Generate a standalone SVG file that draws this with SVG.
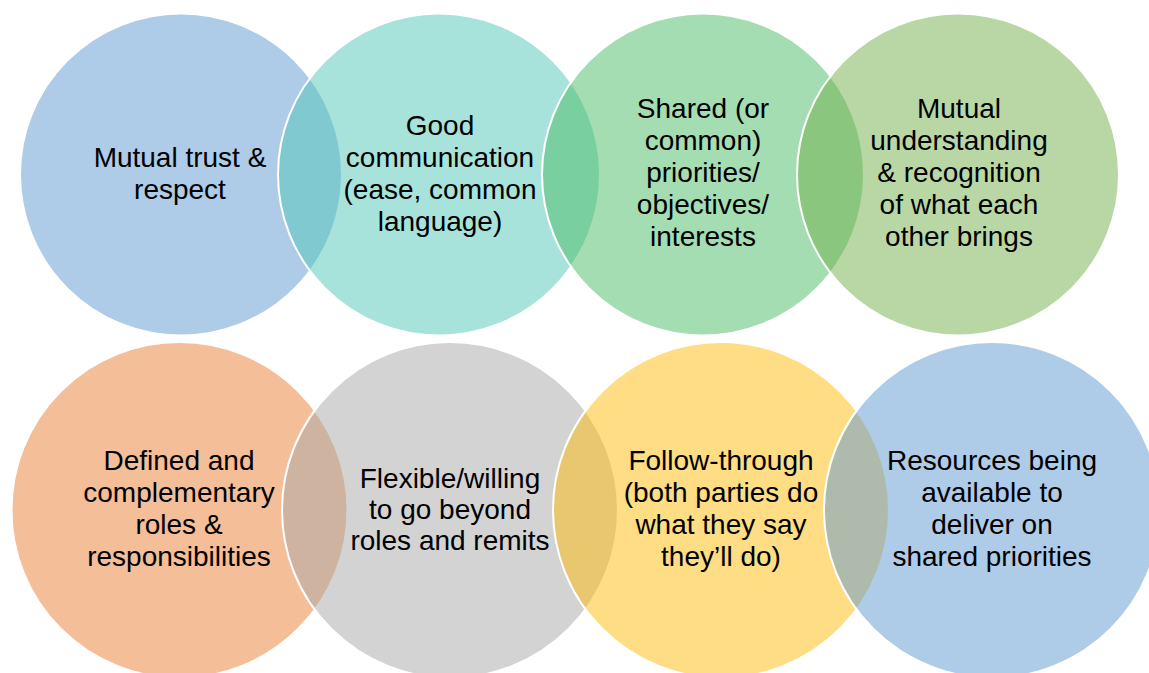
<svg xmlns="http://www.w3.org/2000/svg" width="1149" height="673" viewBox="0 0 1149 673">
<style>
.c{fill-opacity:0.5;stroke:#fff;stroke-width:2}
.t{font-family:"Liberation Sans",Arial,sans-serif;font-size:28px;fill:#000;text-anchor:middle}
</style>
<rect width="1149" height="673" fill="#fff"/>
<g id="n1"><circle class="c" cx="181" cy="174.5" r="161" fill="#5D97D1"/></g>
<g id="n2"><circle class="c" cx="439" cy="174.5" r="161" fill="#51C7B7"/></g>
<g id="n3"><circle class="c" cx="703" cy="174.5" r="161" fill="#49BB65"/></g>
<g id="n4"><circle class="c" cx="958" cy="174.5" r="161" fill="#71AF4B"/></g>
<g id="n5"><circle class="c" cx="179.5" cy="510" r="168" fill="#E97D31"/></g>
<g id="n6"><circle class="c" cx="450" cy="510" r="168" fill="#A7A7A7"/></g>
<g id="n7"><circle class="c" cx="721" cy="510" r="168" fill="#FDBB09"/></g>
<g id="n8"><circle class="c" cx="992" cy="510" r="168" fill="#5D97D1"/></g>
<g id="labels">
<text class="t" x="180" y="167">Mutual trust &amp;</text>
<text class="t" x="180" y="199">respect</text>
<text class="t" x="440" y="135">Good</text>
<text class="t" x="440" y="167">communication</text>
<text class="t" x="440" y="199">(ease, common</text>
<text class="t" x="440" y="231">language)</text>
<text class="t" x="703" y="118">Shared (or</text>
<text class="t" x="703" y="150">common)</text>
<text class="t" x="703" y="182">priorities/</text>
<text class="t" x="703" y="214">objectives/</text>
<text class="t" x="703" y="246">interests</text>
<text class="t" x="959" y="118">Mutual</text>
<text class="t" x="959" y="150">understanding</text>
<text class="t" x="959" y="182">&amp; recognition</text>
<text class="t" x="959" y="214">of what each</text>
<text class="t" x="959" y="246">other brings</text>
<text class="t" x="179" y="470">Defined and</text>
<text class="t" x="179" y="502">complementary</text>
<text class="t" x="179" y="534">roles &amp;</text>
<text class="t" x="179" y="566">responsibilities</text>
<text class="t" x="450" y="488">Flexible/willing</text>
<text class="t" x="450" y="519">to go beyond</text>
<text class="t" x="450" y="550">roles and remits</text>
<text class="t" x="721" y="470">Follow-through</text>
<text class="t" x="721" y="502">(both parties do</text>
<text class="t" x="721" y="534">what they say</text>
<text class="t" x="721" y="566">they’ll do)</text>
<text class="t" x="992" y="470">Resources being</text>
<text class="t" x="992" y="502">available to</text>
<text class="t" x="992" y="534">deliver on</text>
<text class="t" x="992" y="566">shared priorities</text>
</g>
</svg>
